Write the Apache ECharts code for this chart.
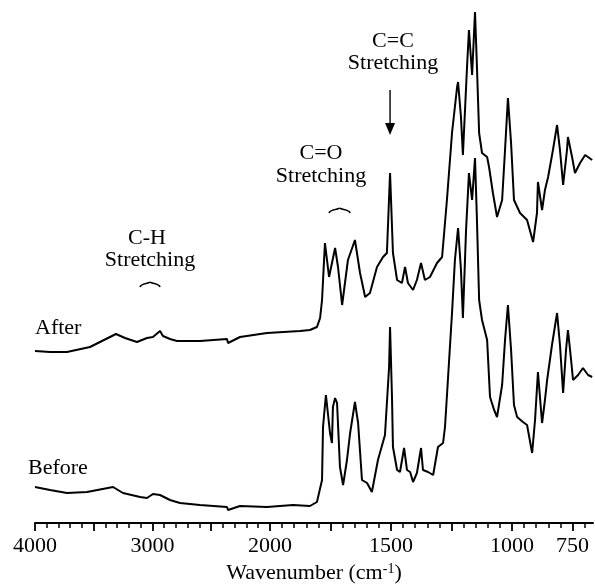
<!DOCTYPE html>
<html>
<head>
<meta charset="utf-8">
<script src="https://cdn.jsdelivr.net/npm/echarts@6/dist/echarts.min.js"></script>
<style>
  html, body { margin: 0; padding: 0; background: #fff; }
  #chart { width: 595px; height: 584px; }
</style>
</head>
<body>
<div id="chart"></div>
<script>
// IR spectra (signal = height above the axis, arbitrary units)
const afterWavenumber = [4000, 3872, 3728, 3532, 3311, 3234, 3132, 3047, 2996, 2936, 2911, 2851, 2791, 2596, 2366, 2357, 2255, 2026,
  1876, 1835, 1806, 1793, 1785, 1773, 1756, 1731, 1719, 1702, 1678, 1649, 1628, 1607, 1587, 1558, 1533, 1517, 1504, 1492, 1475,
  1455, 1442, 1430, 1409, 1393, 1376, 1360, 1339, 1310, 1289, 1269, 1248, 1227, 1223, 1211, 1203, 1186, 1178, 1165, 1153, 1145,
  1136, 1124, 1103, 1095, 1079, 1062, 1041, 1029, 1017, 1004, 992, 967, 938, 913, 897, 893, 876, 864, 851, 831, 814, 802, 789,
  773, 769, 752, 740, 719, 698, 669];
const afterSignal = [172, 171, 171, 176, 189, 185, 181, 185, 186, 192, 187, 184, 182, 182, 184, 180, 186, 190,
  192, 193, 196, 205, 223, 280, 246, 275, 256, 218, 263, 283, 250, 226, 230, 256, 266, 270, 350, 270, 243,
  240, 256, 240, 233, 243, 260, 243, 246, 260, 266, 323, 390, 436, 441, 406, 368, 456, 493, 448, 511, 456,
  390, 370, 366, 356, 330, 306, 323, 373, 425, 380, 323, 310, 303, 281, 310, 341, 313, 333, 346, 373, 398, 373, 338,
  373, 386, 366, 350, 360, 368, 363];

const beforeWavenumber = [4000, 3872, 3728, 3557, 3336, 3251, 3106, 3047, 2996, 2936, 2851, 2766, 2596, 2366, 2357, 2255, 2026,
  1905, 1835, 1806, 1785, 1781, 1769, 1752, 1744, 1740, 1731, 1723, 1711, 1698, 1682, 1669, 1649, 1636, 1620, 1599, 1579,
  1554, 1525, 1517, 1508, 1504, 1496, 1492, 1475, 1463, 1446, 1434, 1421, 1409, 1393, 1376, 1368, 1347, 1326, 1306, 1285,
  1277, 1265, 1248, 1236, 1223, 1211, 1203, 1190, 1178, 1165, 1153, 1145, 1136, 1124, 1103, 1091, 1074, 1062, 1041, 1029,
  1017, 1004, 992, 979, 955, 938, 917, 905, 893, 876, 864, 855, 835, 814, 802, 789, 777, 769, 756, 748, 727, 707, 686, 669];
const beforeSignal = [36, 33, 30, 31, 36, 30, 26, 25, 29, 28, 23, 20, 18, 16, 13, 17, 16,
  18, 17, 21, 43, 96, 128, 90, 80, 116, 125, 120, 56, 38, 63, 90, 121, 100, 43, 40, 31,
  63, 88, 90, 156, 196, 126, 76, 53, 51, 75, 53, 51, 41, 50, 75, 53, 51, 48, 76, 80,
  96, 143, 210, 263, 295, 253, 205, 293, 350, 323, 365, 303, 223, 203, 183, 126, 113, 106, 138, 183,
  218, 173, 118, 106, 101, 98, 70, 103, 151, 100, 123, 143, 178, 210, 178, 130, 173, 193, 163, 143, 148, 155, 148, 146];

// axis ticks (cm-1)
const majorTicks = [4000, 3500, 3000, 2500, 2000, 1750, 1500, 1250, 1000, 750];
const minorTicks = [3900, 3800, 3700, 3600, 3400, 3300, 3200, 3100, 2900, 2800, 2700, 2600, 2400, 2300, 2200, 2100,
  1950, 1900, 1850, 1800, 1700, 1650, 1600, 1550, 1450, 1400, 1350, 1300, 1200, 1150, 1100, 1050,
  950, 900, 850, 800, 700, 650];
const tickLabels = [4000, 3000, 2000, 1500, 1000, 750];

// band annotations
const braceRanges = [[3106, 2936], [1756, 1669]];
const braceLevels = [239, 313];
const arrowWavenumber = 1504;

// the x scale is expanded below 2000 cm-1, like on the spectrometer chart
const K = 2.06;
const U_MAX = 4749;
const toU = w => (w >= 2000 ? 4000 - w : 2000 + K * (2000 - w));
const fromU = u => (u <= 2000 ? 4000 - u : 2000 - (u - 2000) / K);

const FONT = '"Liberation Serif", "DejaVu Serif", serif';
const BLACK = '#000';

const chart = echarts.init(document.getElementById('chart'));

const toPairs = (xs, ys) => xs.map((w, i) => [toU(w), ys[i]]);

const option = {
    animation: false,
    backgroundColor: '#fff',
    grid: { left: 35, right: 2, top: 0, bottom: 61, outerBoundsMode: 'none' },
    xAxis: [
        {
            // minor ticks + axis line
            type: 'value',
            min: 0,
            max: U_MAX,
            position: 'bottom',
            axisLine: { show: true, lineStyle: { color: BLACK, width: 2 } },
            axisTick: { show: true, customValues: minorTicks.map(toU), length: 5, lineStyle: { color: BLACK, width: 1.5 } },
            axisLabel: { show: false },
            splitLine: { show: false }
        },
        {
            // major ticks, labels and name
            type: 'value',
            min: 0,
            max: U_MAX,
            position: 'bottom',
            offset: 0,
            axisLine: { show: false },
            axisTick: { show: true, customValues: majorTicks.map(toU), length: 8, lineStyle: { color: BLACK, width: 1.8 } },
            axisLabel: {
                customValues: tickLabels.map(toU),
                formatter: v => String(Math.round(fromU(v))),
                color: BLACK,
                fontFamily: FONT,
                fontSize: 22,
                margin: 12
            },
            splitLine: { show: false },
            name: 'Wavenumber (cm{sup|-1})',
            nameLocation: 'middle',
            nameGap: 39,
            nameTextStyle: {
                color: BLACK,
                fontFamily: FONT,
                fontSize: 22,
                rich: {
                    sup: { fontFamily: FONT, fontSize: 14, color: BLACK, verticalAlign: 'top', padding: [0, 0, 8, 0] }
                }
            }
        }
    ],
    yAxis: { type: 'value', min: 0, max: 523, show: false },
    series: [
        {
            name: 'After',
            type: 'line',
            data: toPairs(afterWavenumber, afterSignal),
            showSymbol: false,
            lineStyle: { color: BLACK, width: 2 }
        },
        {
            name: 'Before',
            type: 'line',
            data: toPairs(beforeWavenumber, beforeSignal),
            showSymbol: false,
            lineStyle: { color: BLACK, width: 2 }
        },
        {
            // small braces over the C-H and C=O bands
            type: 'custom',
            data: braceRanges.map((r, i) => [toU(r[0]), toU(r[1]), braceLevels[i]]),
            renderItem: (params, api) => {
                const a = api.coord([api.value(0), api.value(2)]);
                const b = api.coord([api.value(1), api.value(2)]);
                const m = (a[0] + b[0]) / 2;
                const y = a[1];
                const style = { stroke: BLACK, lineWidth: 1.6, fill: null };
                return {
                    type: 'group',
                    children: [
                        { type: 'bezierCurve', shape: { x1: a[0], y1: y + 3, cpx1: a[0] + 1, cpy1: y - 1, cpx2: m - 2, cpy2: y, x2: m, y2: y - 2 }, style },
                        { type: 'bezierCurve', shape: { x1: b[0], y1: y + 3, cpx1: b[0] - 1, cpy1: y - 1, cpx2: m + 2, cpy2: y, x2: m, y2: y - 2 }, style }
                    ]
                };
            }
        },
        {
            // arrow marking the C=C band
            type: 'custom',
            data: [[toU(arrowWavenumber), 433, 388]],
            renderItem: (params, api) => {
                const top = api.coord([api.value(0), api.value(1)]);
                const tip = api.coord([api.value(0), api.value(2)]);
                return {
                    type: 'group',
                    children: [
                        { type: 'line', shape: { x1: top[0], y1: top[1], x2: tip[0], y2: tip[1] - 8 }, style: { stroke: BLACK, lineWidth: 1.4 } },
                        { type: 'polygon', shape: { points: [[tip[0] - 5, tip[1] - 12], [tip[0] + 5, tip[1] - 12], [tip[0], tip[1]]] }, style: { fill: BLACK } }
                    ]
                };
            }
        }
    ],
    graphic: [
        { type: 'text', style: { text: 'After', x: 35, y: 328, font: '22px ' + FONT, fill: BLACK, textAlign: 'left', textVerticalAlign: 'middle' } },
        { type: 'text', style: { text: 'Before', x: 28, y: 468, font: '22px ' + FONT, fill: BLACK, textAlign: 'left', textVerticalAlign: 'middle' } },
        { type: 'text', style: { text: 'C-H', x: 147, y: 238, font: '22px ' + FONT, fill: BLACK, textAlign: 'center', textVerticalAlign: 'middle' } },
        { type: 'text', style: { text: 'Stretching', x: 150, y: 260, font: '22px ' + FONT, fill: BLACK, textAlign: 'center', textVerticalAlign: 'middle' } },
        { type: 'text', style: { text: 'C=O', x: 321, y: 153, font: '22px ' + FONT, fill: BLACK, textAlign: 'center', textVerticalAlign: 'middle' } },
        { type: 'text', style: { text: 'Stretching', x: 321, y: 176, font: '22px ' + FONT, fill: BLACK, textAlign: 'center', textVerticalAlign: 'middle' } },
        { type: 'text', style: { text: 'C=C', x: 393, y: 41, font: '22px ' + FONT, fill: BLACK, textAlign: 'center', textVerticalAlign: 'middle' } },
        { type: 'text', style: { text: 'Stretching', x: 393, y: 63, font: '22px ' + FONT, fill: BLACK, textAlign: 'center', textVerticalAlign: 'middle' } }
    ]
};

chart.setOption(option);
window.addEventListener('resize', chart.resize);
</script>
</body>
</html>
